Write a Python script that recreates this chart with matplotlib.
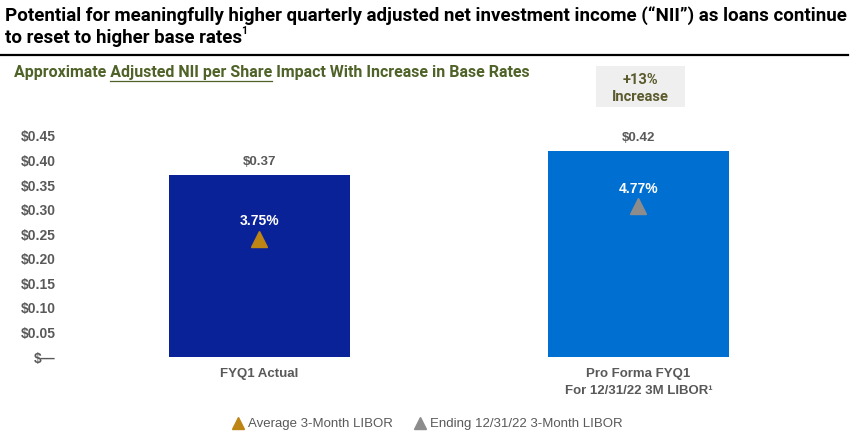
import matplotlib
matplotlib.use("Agg")
import matplotlib.pyplot as plt
from matplotlib import font_manager
from matplotlib.lines import Line2D
from matplotlib.patches import Rectangle

categories = ["FYQ1 Actual", "Pro Forma FYQ1\nFor 12/31/22 3M LIBOR\u00b9"]
nii_per_share = [0.37, 0.42]
nii_labels = ["$0.37", "$0.42"]
libor_rates = [3.75, 4.77]
libor_labels = ["3.75%", "4.77%"]
legend_labels = ["Average 3-Month LIBOR", "Ending 12/31/22 3-Month LIBOR"]
ytick_values = [0, 0.05, 0.10, 0.15, 0.20, 0.25, 0.30, 0.35, 0.40, 0.45]
ytick_labels = ["$\u2014", "$0.05", "$0.10", "$0.15", "$0.20", "$0.25", "$0.30", "$0.35", "$0.40", "$0.45"]
title_line1 = "Potential for meaningfully higher quarterly adjusted net investment income (\u201cNII\u201d) as loans continue"
title_line2 = "to reset to higher base rates"
increase_text = "+13%\nIncrease"

bar_colors = ["#0a2298", "#006fd2"]
tri_colors = ["#bd8513", "#8c8c8c"]
grey = "#595959"
olive = "#4f6228"

names = {f.name for f in font_manager.fontManager.ttflist}
narrow = "Liberation Sans Narrow" if "Liberation Sans Narrow" in names else "Roboto"
arial = "Liberation Sans"

W, H = 856, 446
fig = plt.figure(figsize=(W / 100, H / 100), dpi=100)

def fx(px):
    return px / W

def fy(py):
    return 1 - py / H

# axes geometry in pixels
ax_left, ax_right = 100, 800
ax_top, ax_bottom = 136, 357
ax = fig.add_axes([fx(ax_left), fy(ax_bottom), fx(ax_right - ax_left), (ax_bottom - ax_top) / H])
c0, spacing = 259.5, 379.0
ax.set_xlim((ax_left - c0) / spacing, (ax_right - c0) / spacing)
ax.set_ylim(0, 0.45)

x = [0, 1]
bw = 181 / spacing
ax.bar(x, nii_per_share, width=bw, color=bar_colors, zorder=2)
for xi, v, lab in zip(x, nii_per_share, nii_labels):
    ax.annotate(lab, (xi, v), xytext=(0, 5), textcoords="offset points",
                ha="center", va="bottom", color=grey, fontsize=9.5,
                fontweight="bold", family=arial)

ax.set_yticks(ytick_values)
ax.set_yticklabels(ytick_labels, fontsize=10, fontweight="bold", color=grey, family=arial)
ax.tick_params(axis="y", length=0, pad=32)
ax.set_xticks(x)
ax.set_xticklabels(categories, fontsize=9.5, fontweight="bold", color=grey, family=arial,
                   linespacing=1.5)
ax.tick_params(axis="x", length=0, pad=8)
for s in ax.spines.values():
    s.set_visible(False)

ax2 = ax.twinx()
ax2.set_ylim(0, 7)
ax2.axis("off")
ax2.set_position(ax.get_position())
for xi, r, lab, c in zip(x, libor_rates, libor_labels, tri_colors):
    ax2.plot([xi], [r], marker="^", color=c, markersize=12, linestyle="none", zorder=3)
    ax2.annotate(lab, (xi, r), xytext=(0, 7.5), textcoords="offset points",
                 ha="center", va="bottom", color="white", fontsize=10,
                 fontweight="bold", family=arial)

fig.canvas.draw()
r = fig.canvas.get_renderer()

# Title
title_kw = dict(fontsize=13.5, fontweight="bold", color="black", family=narrow)
fig.text(fx(5), fy(16), title_line1, ha="left", va="center", **title_kw)
t2 = fig.text(fx(5), fy(38), title_line2, ha="left", va="center", **title_kw)
b = t2.get_window_extent(r)
fig.text(b.x1 / W - fx(1.5), fy(31), "1", ha="left", va="center", fontsize=7.5, fontweight="bold",
         color="black", family=narrow)

# rule
fig.add_artist(Line2D([fx(0), fx(848)], [fy(55), fy(55)], color="black", linewidth=1.6))

# subtitle with partial underline
sub_pre = "Approximate "
sub_ul = "Adjusted NII per Share"
sub_post = " Impact With Increase in Base Rates"
sub_kw = dict(fontsize=11.5, fontweight="bold", color=olive, family=narrow)
fig.text(fx(14), fy(72), sub_pre + sub_ul + sub_post, ha="left", va="center", **sub_kw)
tmp1 = fig.text(fx(14), fy(72), sub_pre, ha="left", va="center", **sub_kw)
tmp2 = fig.text(fx(14), fy(72), sub_pre + sub_ul, ha="left", va="center", **sub_kw)
b1 = tmp1.get_window_extent(r)
b2 = tmp2.get_window_extent(r)
tmp1.remove()
tmp2.remove()
fig.add_artist(Line2D([b1.x1 / W, b2.x1 / W], [fy(80.5), fy(80.5)], color=olive, linewidth=0.9))

# increase box
fig.add_artist(Rectangle((fx(596), fy(107)), fx(89), (107 - 66) / H, transform=fig.transFigure,
                         facecolor="#efefef", edgecolor="none"))
fig.text(fx(640.5), fy(88.5), increase_text, ha="center", va="center", fontsize=10.5,
         fontweight="bold", color="#5a5a2c", family=narrow, linespacing=1.3)

# legend
handles = [Line2D([], [], marker="^", color=c, linestyle="none", markersize=9) for c in tri_colors]
fig.legend(handles, legend_labels, loc="center", bbox_to_anchor=(fx(427), fy(424)), ncol=2,
           frameon=False, prop={"family": arial, "size": 9.5}, labelcolor=grey,
           handletextpad=0.2, columnspacing=1.6, handlelength=1.0)

fig.savefig("out.png", dpi=100)
